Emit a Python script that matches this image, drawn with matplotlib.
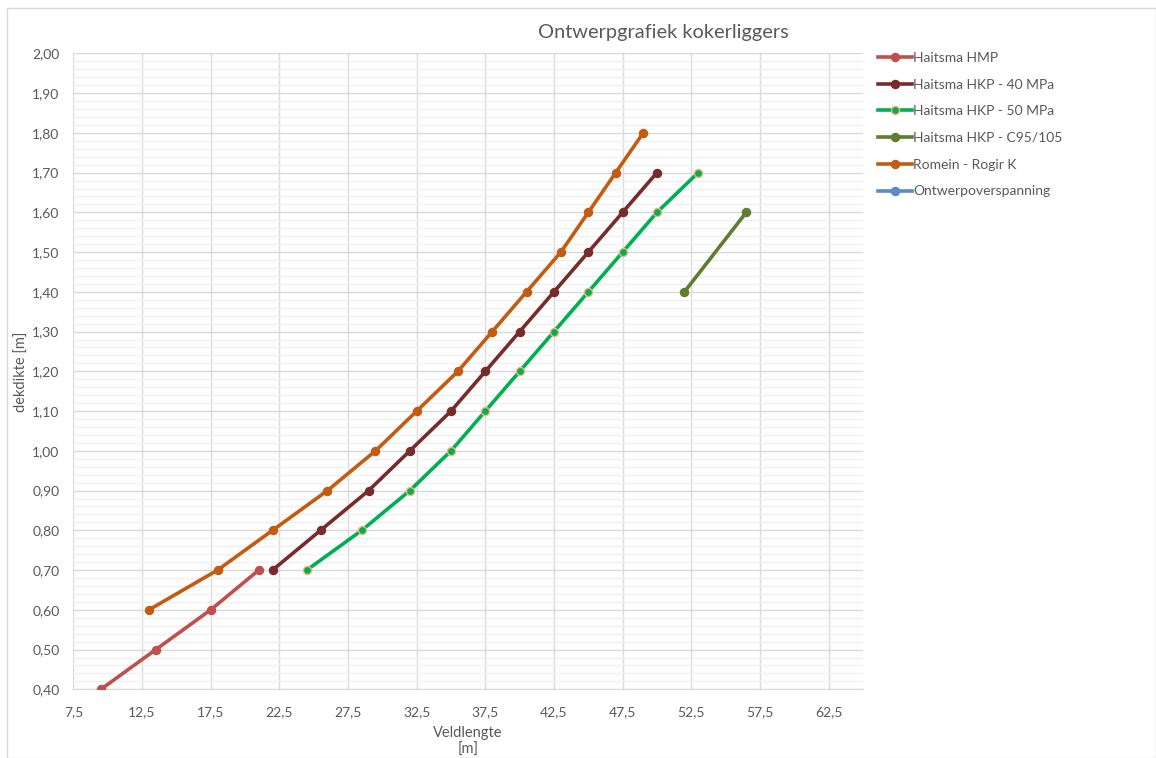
import matplotlib
matplotlib.use("Agg")
import matplotlib.pyplot as plt
from matplotlib.ticker import MultipleLocator, FuncFormatter
from matplotlib.patches import Rectangle

plt.rcParams['font.family'] = ['Lato', 'DejaVu Sans']

# Span length [m] vs deck thickness [m] per girder type
hmp_x = [9.5, 13.5, 17.5, 21.0]
hmp_y = [0.40, 0.50, 0.60, 0.70]

hkp40_x = [22.0, 25.5, 29.0, 32.0, 35.0, 37.5, 40.0, 42.5, 45.0, 47.5, 50.0]
hkp40_y = [0.70, 0.80, 0.90, 1.00, 1.10, 1.20, 1.30, 1.40, 1.50, 1.60, 1.70]

hkp50_x = [24.5, 28.5, 32.0, 35.0, 37.5, 40.0, 42.5, 45.0, 47.5, 50.0, 53.0]
hkp50_y = [0.70, 0.80, 0.90, 1.00, 1.10, 1.20, 1.30, 1.40, 1.50, 1.60, 1.70]

c95_x = [52.0, 56.5]
c95_y = [1.40, 1.60]

romein_x = [13.0, 18.0, 22.0, 26.0, 29.5, 32.5, 35.5, 38.0, 40.5, 43.0, 45.0, 47.0, 49.0]
romein_y = [0.60, 0.70, 0.80, 0.90, 1.00, 1.10, 1.20, 1.30, 1.40, 1.50, 1.60, 1.70, 1.80]

design_x = []
design_y = []

labels = ["Haitsma HMP", "Haitsma HKP - 40 MPa", "Haitsma HKP - 50 MPa",
          "Haitsma HKP - C95/105", "Romein - Rogir K", "Ontwerpoverspanning"]

fig = plt.figure(figsize=(11.56, 7.58), dpi=100)
fig.patches.append(Rectangle((0.006, 0.0), 0.994, 0.99, transform=fig.transFigure,
                             fill=False, edgecolor='#D9D9D9', linewidth=1.0))

ax = fig.add_axes([0.0635, 0.0906, 0.6830, 0.8390])

text_col = '#595959'
lw = 2.6
ms = 5.8

ax.plot(hmp_x, hmp_y, '-o', color='#C0504D', lw=lw, ms=ms, label=labels[0], zorder=3)
ax.plot(hkp40_x, hkp40_y, '-o', color='#772C2A', lw=lw, ms=ms, label=labels[1], zorder=3)
ax.plot(hkp50_x, hkp50_y, '-o', color='#00B050', lw=lw, ms=ms, mfc='#00B050',
        mec='#F4B183', mew=1.0, label=labels[2], zorder=3)
ax.plot(c95_x, c95_y, '-o', color='#5E7D30', lw=lw, ms=ms, label=labels[3], zorder=3)
ax.plot(romein_x, romein_y, '-o', color='#C55A11', lw=lw, ms=ms, label=labels[4], zorder=3)
ax.plot(design_x, design_y, '-o', color='#5B8AC6', lw=lw, ms=ms, label=labels[5], zorder=3)

ax.set_xlim(7.5, 65)
ax.set_ylim(0.40, 2.00)
ax.xaxis.set_major_locator(MultipleLocator(5, offset=2.5))
ax.yaxis.set_major_locator(MultipleLocator(0.10))
ax.yaxis.set_minor_locator(MultipleLocator(0.02))

ax.xaxis.set_major_formatter(FuncFormatter(lambda v, p: f"{v:.1f}".replace('.', ',') if v < 64 else ""))
ax.yaxis.set_major_formatter(FuncFormatter(lambda v, p: f"{v:.2f}".replace('.', ',')))

ax.grid(True, which='major', color='#DADADA', lw=1.0, zorder=0)
ax.grid(True, which='minor', axis='y', color='#F0F0F0', lw=1.0, zorder=0)
ax.set_axisbelow(True)

for side in ['top', 'right', 'left']:
    ax.spines[side].set_visible(False)
ax.spines['bottom'].set_color('#D9D9D9')
ax.tick_params(which='both', length=0, colors=text_col, labelsize=10)
ax.tick_params(axis='x', pad=12)
ax.tick_params(axis='y', pad=10)

ax.set_xlabel("Veldlengte\n[m]", color=text_col, fontsize=10.5, labelpad=6)
ax.set_ylabel("dekdikte [m]", color=text_col, fontsize=10.5)
ax.yaxis.set_label_coords(-0.057, 0.5)

fig.text(0.5735, 0.957, "Ontwerpgrafiek kokerliggers", ha='center', va='center',
         color=text_col, fontsize=14.4)

leg = ax.legend(loc='upper left', bbox_to_anchor=(0.755, 0.939), bbox_transform=fig.transFigure,
                frameon=False, fontsize=10, handlelength=2.4, handletextpad=0.12,
                labelspacing=1.06, borderaxespad=0)
for t in leg.get_texts():
    t.set_color(text_col)

fig.savefig("out.png", dpi=100)
